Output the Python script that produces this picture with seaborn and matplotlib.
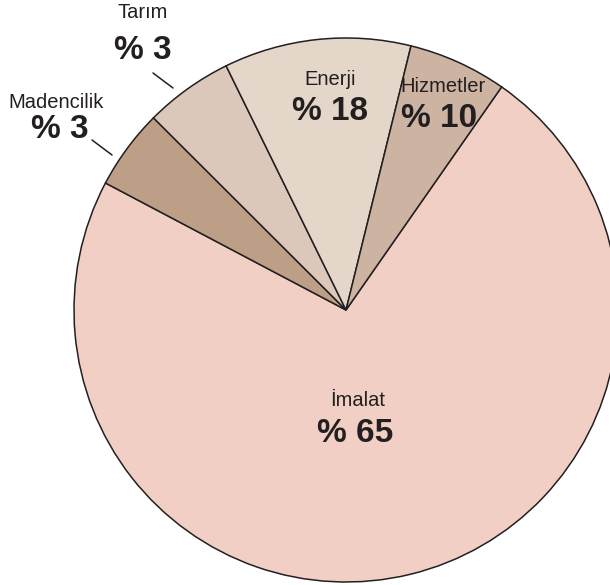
import matplotlib
matplotlib.use("Agg")
import matplotlib.pyplot as plt
import seaborn as sns

# Data (slice sizes as drawn in the picture, labels as printed)
sectors = ["İmalat", "Madencilik", "Tarım", "Enerji", "Hizmetler"]
shares = [73.0, 4.75, 5.25, 11.1, 5.85]
pct_labels = ["% 65", "% 3", "% 3", "% 18", "% 10"]
colors = ["#f2cfc5", "#bd9e86", "#dcc8ba", "#e5d6ca", "#cdb3a1"]

sns.set_theme(style="white")
plt.rcParams["font.family"] = ["Liberation Sans", "DejaVu Sans"]

W, H = 610, 585
CX, CY, R = 346, 310, 272

fig = plt.figure(figsize=(W / 100, H / 100), dpi=100)
ax = fig.add_axes([0, 0, 1, 1])

ax.pie(shares, colors=sns.color_palette(colors), startangle=55.1, counterclock=False,
       radius=1.0, center=(0, 0),
       wedgeprops=dict(edgecolor="#231f20", linewidth=1.1))
ax.set_xlim(-CX / R, (W - CX) / R)
ax.set_ylim(-(H - CY) / R, CY / R)
ax.set_aspect("auto")
ax.axis("off")


def px(x, y):
    return (x - CX) / R, (CY - y) / R


ink = "#231f20"
# text positions (pixels)
name_pos = [(358, 401), (56, 103), (143, 13), (330, 80), (443, 87)]
pct_pos = [(355, 434), (60, 130), (143, 51), (330, 112), (439, 119)]
for name, pct, npos, ppos in zip(sectors, pct_labels, name_pos, pct_pos):
    ax.text(*px(*npos), name, ha="center", va="center", fontsize=14.5,
            color=ink)
    ax.text(*px(*ppos), pct, ha="center", va="center", fontsize=24,
            fontweight="bold", color=ink)

# leader lines
for (x0, y0), (x1, y1) in [((153, 73), (173, 88)), ((92, 140), (112, 155))]:
    ax.plot(*zip(px(x0, y0), px(x1, y1)), color=ink, linewidth=1.1)

fig.savefig("out.png", dpi=100)
